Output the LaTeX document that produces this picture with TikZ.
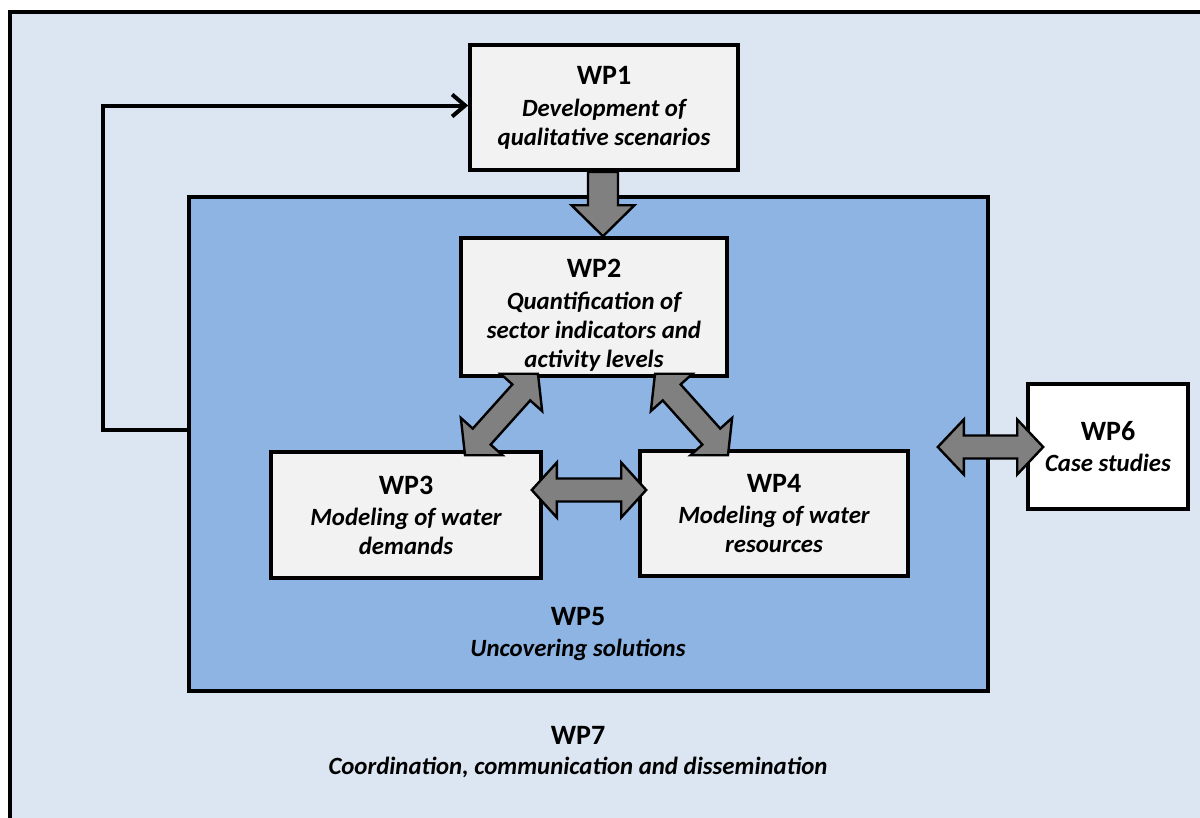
\documentclass[tikz,border=0pt]{standalone}
\usepackage{fontspec}
\setmainfont{Carlito}
\usetikzlibrary{calc,arrows.meta}
\definecolor{wpouter}{HTML}{DCE6F2}
\definecolor{wpinner}{HTML}{8EB4E3}
\definecolor{wpbox}{HTML}{F2F2F2}
\definecolor{wparrow}{HTML}{808080}

\newcommand\hdfont{\fontsize{28}{30}\selectfont\bfseries\upshape}
\newcommand\subfont{\fontsize{24.8}{29}\selectfont\bfseries\itshape}

% block double arrow between two named coordinates:
% start, end, shaft half width, head half width, head length
\newcommand\dblarrow[5]{%
  \coordinate (da1) at ($(#1)!#5!(#2)$);
  \coordinate (da2) at ($(#2)!#5!(#1)$);
  \draw[blockarrow] (#1) -- ($(da1)!#4!90:(#2)$) -- ($(da1)!#3!90:(#2)$)
    -- ($(da2)!#3!-90:(#1)$) -- ($(da2)!#4!-90:(#1)$) -- (#2)
    -- ($(da2)!#4!90:(#1)$) -- ($(da2)!#3!90:(#1)$)
    -- ($(da1)!#3!-90:(#2)$) -- ($(da1)!#4!-90:(#2)$) -- cycle;
}
% block single arrow between two named coordinates
\newcommand\onearrow[5]{%
  \coordinate (da2) at ($(#2)!#5!(#1)$);
  \draw[blockarrow] ($(#1)!#3!-90:(#2)$) -- ($(da2)!#3!90:(#1)$)
    -- ($(da2)!#4!90:(#1)$) -- (#2) -- ($(da2)!#4!-90:(#1)$)
    -- ($(da2)!#3!-90:(#1)$) -- ($(#1)!#3!90:(#2)$) -- cycle;
}

\tikzset{
  wpbox/.style={draw=black, line width=3.6pt, fill=wpbox, align=center,
    inner sep=0pt, font=\subfont},
  blockarrow/.style={draw=black, line width=2.4pt, fill=wparrow, line join=miter},
  feedback/.style={draw=black, line width=4pt,
    -{Straight Barb[length=13pt,width=22pt,line width=4pt]}},
  label/.style={align=center, inner sep=0pt, font=\subfont},
}

\begin{document}
\begin{tikzpicture}[x=1pt, y=-1pt]
\useasboundingbox (0,0) rectangle (1200,817);
\clip (0,0) rectangle (1200,817);
\fill[white] (0,0) rectangle (1200,817);

% WP7 frame
\draw[line width=3.6pt, fill=wpouter] (10,12) rectangle (1230,840);

% WP5 area
\node[draw=black, line width=3.6pt, fill=wpinner, minimum width=799pt,
  minimum height=494pt, inner sep=0pt] (wp5) at (588.5,444) {};

\node[wpbox, minimum width=268pt, minimum height=125pt] (wp1) at (604,107.5)
  {{\hdfont WP1}\\[3pt]Development of\\qualitative scenarios};
\node[wpbox, minimum width=266pt, minimum height=138pt] (wp2) at (594,307) {};
\node[label] (wp2text) at ($(wp2.center)+(0,8)$)
  {{\hdfont WP2}\\[3pt]Quantification of\\sector indicators and\\activity levels};
\node[wpbox, minimum width=270pt, minimum height=126pt] (wp3) at (406,515)
  {{\hdfont WP3}\\[2pt]Modeling of water\\demands};
\node[wpbox, minimum width=268pt, minimum height=125pt] (wp4) at (774,513.5)
  {{\hdfont WP4}\\[2pt]Modeling of water\\resources};
\node[wpbox, fill=white, minimum width=160pt, minimum height=125pt] (wp6) at (1108,446.5)
  {{\hdfont WP6}\\[2pt]Case studies};

\node[label] (wp5lbl) at (578,634) {{\hdfont WP5}\\[2pt]Uncovering solutions};
\node[label] (wp7lbl) at (578,752) {{\hdfont WP7}\\[1pt]Coordination, communication and dissemination};

% feedback loop back to WP1
\draw[feedback] ([yshift=14pt]wp5.west) -- ++(-84,0) |- ([yshift=2pt]wp1.west);

% end points of the block arrows, taken from the boxes
\coordinate (a12s) at ($(wp1.south)+(-1,0)$);
\coordinate (a12e) at (a12s |- wp2.north);
\coordinate (a23s) at ($(wp2.south)+(-56,-4)$);
\coordinate (a23e) at ($(wp3.north)+(59,5)$);
\coordinate (a24s) at ($(wp2.south)+(61,-4)$);
\coordinate (a24e) at ($(wp4.north)+(-46,6)$);
\coordinate (a34s) at ($(wp3.east)+(-11,-25)$);
\coordinate (a34e) at ($(wp4.west)+(8,-23.5)$);
\coordinate (a56s) at ($(wp5.east)+(-52,3)$);
\coordinate (a56e) at ($(wp6.west)+(17,0.5)$);

\onearrow{a12s}{a12e}{15pt}{31.5pt}{31pt}
\dblarrow{a23s}{a23e}{12pt}{28pt}{25pt}
\dblarrow{a24s}{a24e}{12pt}{28pt}{25pt}
\dblarrow{a34s}{a34e}{11.5pt}{27.5pt}{25pt}
\dblarrow{a56s}{a56e}{11.5pt}{27.5pt}{26pt}
\end{tikzpicture}
\end{document}
